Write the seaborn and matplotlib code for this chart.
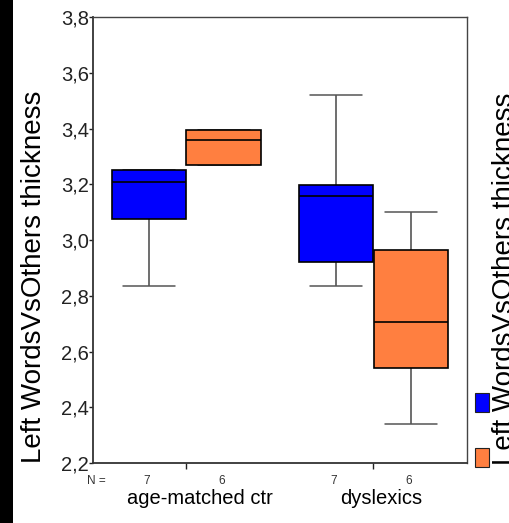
import numpy as np
import pandas as pd
import matplotlib
matplotlib.use("Agg")
import matplotlib.pyplot as plt
import matplotlib.transforms as mtransforms
from matplotlib.patches import Rectangle
import seaborn as sns

# ---- data (five-number summaries) ----
groups = ["age-matched ctr", "dyslexics"]
series = ["series 1", "series 2"]
ctr_s1 = [2.835, 3.077, 3.207, 3.252, 3.252]
ctr_s2 = [3.270, 3.270, 3.358, 3.393, 3.393]
dys_s1 = [2.834, 2.920, 3.157, 3.196, 3.521]
dys_s2 = [2.339, 2.540, 2.707, 2.965, 3.102]
n_counts = [[7, 6], [7, 6]]
ytick_values = [2.2, 2.4, 2.6, 2.8, 3.0, 3.2, 3.4, 3.6, 3.8]
ytick_labels = ["2,2", "2,4", "2,6", "2,8", "3,0", "3,2", "3,4", "3,6", "3,8"]
ylabel = "Left WordsVsOthers thickness"
colors = ["#0000FF", "#FF7F40"]

rows = []
for g, s, vals in [(groups[0], series[0], ctr_s1), (groups[0], series[1], ctr_s2),
                   (groups[1], series[0], dys_s1), (groups[1], series[1], dys_s2)]:
    for v in vals:
        rows.append({"group": g, "series": s, "value": v})
df = pd.DataFrame(rows)

sns.set_style("white")
plt.rcParams["font.family"] = ["Liberation Sans", "DejaVu Sans"]

W, H = 510, 523
fig = plt.figure(figsize=(W / 100, H / 100), dpi=100)
ax = fig.add_axes([93 / W, 1 - 463 / H, (467 - 93) / W, (463 - 17) / H])

sns.boxplot(data=df, x="group", y="value", hue="series", order=groups,
            hue_order=series, palette=colors, saturation=1, width=0.8, gap=0,
            whis=(0, 100), showfliers=False, linecolor="black", linewidth=1.2,
            capwidths=0.28,
            whiskerprops={"color": "#555555", "linewidth": 1.2},
            capprops={"color": "#555555", "linewidth": 1.1},
            medianprops={"color": "black", "linewidth": 1.2},
            legend=False, ax=ax)

# caps and whiskers go beneath the boxes (caps that coincide with box edges stay hidden)
for p in ax.patches:
    p.set_zorder(3)
for ln in ax.lines:
    xd = np.asarray(ln.get_xdata(), dtype=float)
    span = xd.max() - xd.min()
    if span > 0.35:          # median lines
        ln.set_zorder(4)
    else:                    # whiskers and caps
        ln.set_zorder(2)

ax.set_xlim(-0.5, 1.5)
ax.set_ylim(2.2, 3.8)
ax.set_yticks(ytick_values, labels=ytick_labels)
ax.set_xlabel("")
ax.set_ylabel("")
ax.tick_params(axis="y", which="both", left=True, length=3, width=1, pad=0,
               labelsize=14.5, colors="#222222")
ax.tick_params(axis="x", which="both", bottom=True, length=4, width=1,
               pad=15, labelsize=14.5, colors="#222222")
ax.set_xticks([0, 1], labels=groups)
offs = [13, 8]
for lab, o in zip(ax.get_xticklabels(), offs):
    lab.set_transform(lab.get_transform() + mtransforms.ScaledTranslation(o / 100, 0, fig.dpi_scale_trans))
    lab.set_color("black")

for side in ["left", "bottom"]:
    ax.spines[side].set_color("#333333")
    ax.spines[side].set_linewidth(1.3)
for side in ["top", "right"]:
    ax.spines[side].set_color("#444444")
    ax.spines[side].set_linewidth(1.0)

# N row
trans = mtransforms.blended_transform_factory(ax.transData, fig.transFigure)
yN = 1 - 481 / H
fig.text(96 / W, yN, "N =", ha="center", va="center", fontsize=8.5, color="#333333")
for gi in range(2):
    for si in range(2):
        xpos = gi + (-0.2 if si == 0 else 0.2) - 0.012
        ax.text(xpos, yN, str(n_counts[gi][si]), transform=trans, ha="center",
                va="center", fontsize=8.5, color="#333333")

# y label
fig.text(21 / W, 1 - 276.5 / H, ylabel, rotation=90, ha="left", va="center",
         fontsize=20, color="black")

# cut-off duplicate label and legend swatches at right edge (as in the source image)
fig.text(492 / W, 1 - 279 / H, ylabel, rotation=90, ha="left", va="center",
         fontsize=20, color="black")
fig.patches.append(Rectangle((475 / W, 1 - 412 / H), 14 / W, 19 / H,
                             transform=fig.transFigure, facecolor=colors[0],
                             edgecolor="#222222", linewidth=0.8))
fig.patches.append(Rectangle((475 / W, 1 - 467 / H), 14 / W, 19 / H,
                             transform=fig.transFigure, facecolor=colors[1],
                             edgecolor="#222222", linewidth=0.8))

# black strip on the left edge
fig.patches.append(Rectangle((0, 0), 13 / W, 1, transform=fig.transFigure,
                             facecolor="black", edgecolor="none"))

fig.savefig("out.png", dpi=100)
